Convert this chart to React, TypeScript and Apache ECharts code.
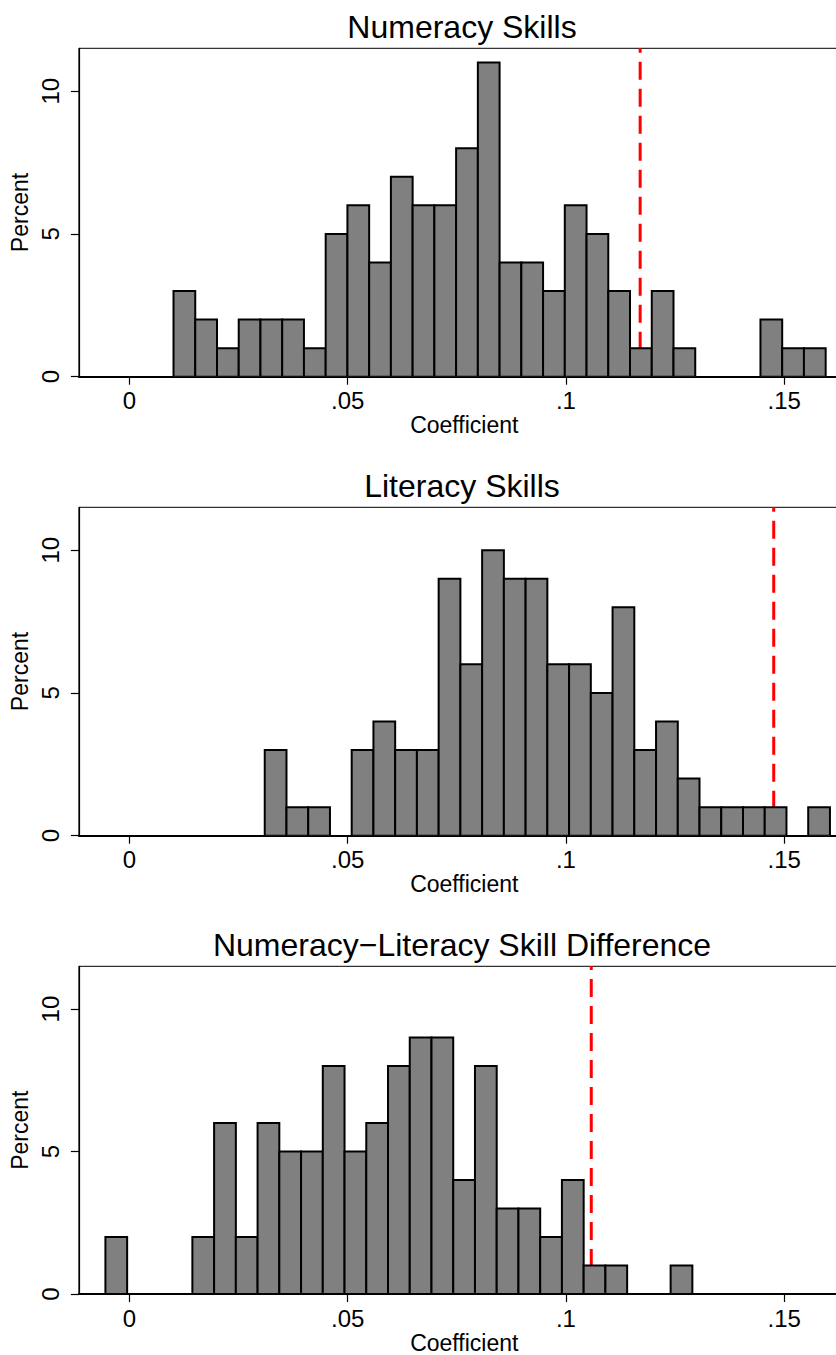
import React, { useEffect, useRef } from "react";
import * as echarts from "echarts";

// ---- data ----
const binWidth = 0.00498;

const numeracyStart = 0.0101;
const numeracyPct = [3, 2, 1, 2, 2, 2, 1, 5, 6, 4, 7, 6, 6, 8, 11, 4, 4, 3, 6, 5, 3, 1, 3, 1, 0, 0, 0, 2, 1, 1];

const literacyStart = 0.031;
const literacyPct = [3, 1, 1, 0, 3, 4, 3, 3, 9, 6, 10, 9, 9, 6, 6, 5, 8, 3, 4, 2, 1, 1, 1, 1, 0, 1];

const diffStart = -0.0055;
const diffPct = [2, 0, 0, 0, 2, 6, 2, 6, 5, 5, 8, 5, 6, 8, 9, 9, 4, 8, 3, 3, 2, 4, 1, 1, 0, 0, 1];

const panelTitles = ["Numeracy Skills", "Literacy Skills", "Numeracy\u2212Literacy Skill Difference"];
const refLines = [0.117, 0.1476, 0.1058];

const xTickValues = [0, 0.05, 0.1, 0.15];
const yTickValues = [0, 5, 10];
const xName = "Coefficient";
const yName = "Percent";

// ---- layout ----
const W = 836;
const H = 1355;
const CHART_W = 880;
const plotLeft = 77.7;
const plotWidth = 772;
const plotHeight = 328.4;
const plotTops = [48.3, 507.3, 966.3];
const titleTops = [6, 465, 924];
const pxPerUnit = 4372;
const xMin = -(128.3 - plotLeft) / pxPerUnit;
const xMax = xMin + plotWidth / pxPerUnit;
const yMax = 11.5;
const FONT = "Liberation Sans";

function fmtX(v: number) {
  if (v === 0) return "0";
  return String(Number(v.toFixed(3))).replace(/^0\./, ".");
}

export default function App() {
  const ref = useRef<HTMLDivElement>(null);

  useEffect(() => {
    if (!ref.current) return;
    const chart = echarts.init(ref.current, null, { renderer: "svg" });

    const panels = [
      { start: numeracyStart, pct: numeracyPct },
      { start: literacyStart, pct: literacyPct },
      { start: diffStart, pct: diffPct },
    ];

    const grids: any[] = [];
    const xAxes: any[] = [];
    const yAxes: any[] = [];
    const series: any[] = [];
    const titles: any[] = [];

    panels.forEach((p, i) => {
      grids.push({
        left: plotLeft,
        top: plotTops[i],
        width: plotWidth,
        height: plotHeight,
        show: true,
        borderColor: "#000",
        borderWidth: 1,
        backgroundColor: "#fff",
      });
      titles.push({
        text: panelTitles[i],
        left: 457,
        top: titleTops[i],
        textAlign: "center",
        textStyle: { fontFamily: FONT, fontSize: 32, fontWeight: "normal", color: "#000" },
      });
      xAxes.push({
        type: "value",
        gridIndex: i,
        min: xMin,
        max: xMax,
        name: xName,
        nameLocation: "middle",
        nameGap: 37,
        nameTextStyle: { fontFamily: FONT, fontSize: 23, color: "#000" },
        axisLine: { show: true, onZero: false, lineStyle: { color: "#000", width: 2 } },
        axisTick: { show: true, length: 8, customValues: xTickValues, lineStyle: { color: "#000", width: 1.2 } },
        axisLabel: {
          customValues: xTickValues,
          formatter: (v: number) => fmtX(v),
          fontFamily: FONT,
          fontSize: 24,
          color: "#000",
          margin: 12,
        },
        splitLine: { show: false },
      });
      yAxes.push({
        type: "value",
        gridIndex: i,
        min: 0,
        max: yMax,
        name: yName,
        nameLocation: "middle",
        nameRotate: 90,
        nameGap: 47,
        nameTextStyle: { fontFamily: FONT, fontSize: 23, color: "#000" },
        axisLine: { show: true, onZero: false, lineStyle: { color: "#000", width: 1.2 } },
        axisTick: { show: true, length: 8, customValues: yTickValues, lineStyle: { color: "#000", width: 1.2 } },
        axisLabel: {
          customValues: yTickValues,
          rotate: 90,
          fontFamily: FONT,
          fontSize: 24,
          color: "#000",
          margin: 16,
        },
        splitLine: { show: false },
      });

      const binData = p.pct
        .map((v, k) => [p.start + k * binWidth, p.start + (k + 1) * binWidth, v])
        .filter((d) => d[2] > 0);

      // reference line (drawn under the bars)
      series.push({
        type: "line",
        xAxisIndex: i,
        yAxisIndex: i,
        data: [
          [refLines[i], 0],
          [refLines[i], yMax],
        ],
        symbol: "none",
        z: 1,
        lineStyle: { color: "#ff0000", width: 3, type: [18, 9] },
        silent: true,
      });

      series.push({
        type: "custom",
        xAxisIndex: i,
        yAxisIndex: i,
        z: 2,
        clip: true,
        data: binData,
        renderItem: (params: any, api: any) => {
          const x0 = api.value(0);
          const x1 = api.value(1);
          const v = api.value(2);
          const pTop = api.coord([x0, v]);
          const pBot = api.coord([x1, 0]);
          return {
            type: "rect",
            shape: {
              x: pTop[0],
              y: pTop[1],
              width: pBot[0] - pTop[0],
              height: pBot[1] - pTop[1],
            },
            style: { fill: "#808080", stroke: "#000", lineWidth: 2 },
          };
        },
      });
    });

    chart.setOption({
      animation: false,
      backgroundColor: "#fff",
      textStyle: { fontFamily: FONT },
      title: titles,
      grid: grids,
      xAxis: xAxes,
      yAxis: yAxes,
      series,
    });

    return () => chart.dispose();
  }, []);

  return (
    <div
      style={{
        position: "absolute",
        left: 0,
        top: 0,
        width: W,
        height: H,
        overflow: "hidden",
        background: "#fff",
      }}
    >
      <div ref={ref} style={{ width: CHART_W, height: H }} />
    </div>
  );
}
